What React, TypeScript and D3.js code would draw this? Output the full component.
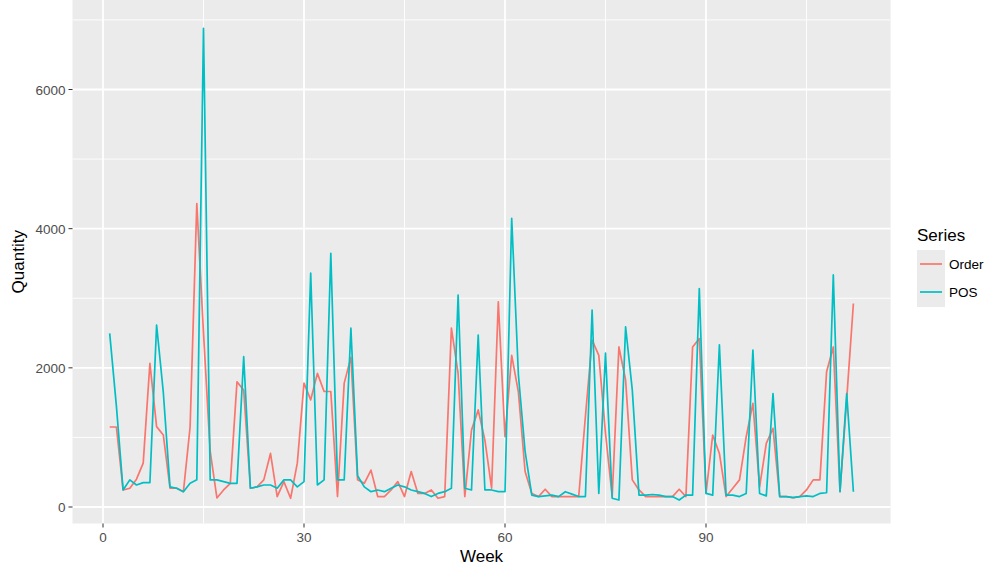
import React from "react";
import * as d3 from "d3";

const weeks: number[] = Array.from({ length: 112 }, (_, i) => i + 1);

const orderValues: number[] = [
  1150, 1150, 245, 270, 400, 630, 2065, 1155, 1035, 270,
  270, 220, 1150, 4360, 2500, 800, 130, 245, 340, 1800,
  1680, 270, 290, 390, 770, 150, 365, 125, 630, 1780,
  1540, 1920, 1660, 1660, 150, 1780, 2150, 390, 340, 530,
  150, 150, 245, 365, 150, 510, 195, 195, 245, 125,
  150, 2570, 1920, 150, 1105, 1395, 960, 270, 2950, 1010,
  2180, 1650, 510, 195, 150, 255, 150, 150, 150, 150,
  150, 1300, 2400, 2180, 1060, 150, 2300, 1825, 390, 245,
  150, 150, 150, 150, 150, 255, 150, 2300, 2420, 195,
  1035, 770, 150, 270, 390, 1010, 1490, 290, 915, 1130,
  150, 150, 135, 150, 245, 390, 390, 1945, 2300, 220,
  1550, 2925,
];

const posValues: number[] = [
  2495, 1450, 245, 390, 316, 350, 350, 2615, 1650, 290,
  270, 220, 340, 390, 6878, 390, 390, 365, 340, 340,
  2160, 270, 290, 316, 316, 270, 390, 390, 290, 365,
  3360, 316, 390, 3645, 390, 390, 2570, 450, 290, 220,
  245, 220, 270, 316, 290, 245, 220, 195, 150, 195,
  220, 270, 3045, 270, 245, 2470, 245, 245, 220, 220,
  4150, 1900, 800, 170, 150, 160, 170, 150, 220, 185,
  150, 150, 2830, 195, 2210, 125, 100, 2590, 1680, 170,
  170, 180, 170, 150, 150, 100, 170, 170, 3140, 195,
  170, 2330, 170, 170, 150, 195, 2255, 195, 160, 1630,
  150, 150, 135, 150, 160, 150, 195, 205, 3335, 220,
  1630, 220,
];

const seriesNames: string[] = ["Order", "POS"];
const seriesColors: string[] = ["#F8766D", "#00BFC4"];
const xMajorTicks: number[] = [0, 30, 60, 90];
const xMinorTicks: number[] = [15, 45, 75, 105];
const yMajorTicks: number[] = [0, 2000, 4000, 6000];
const yMinorTicks: number[] = [1000, 3000, 5000, 7000];

export default function App() {
  const W = 993;
  const H = 569;
  const x = d3.scaleLinear().domain([0, 90]).range([103, 706]);
  const y = d3.scaleLinear().domain([0, 6000]).range([507, 89.5]);

  const xMin = 1 - 0.05 * 111;
  const xMax = 112 + 0.05 * 111;
  const panelLeft = x(xMin);
  const panelRight = x(xMax);
  const panelTop = 0;
  const panelBottom = y(-237);

  const line = d3
    .line<number>()
    .x((_, i) => x(weeks[i]))
    .y((v) => y(v));

  const series = [orderValues, posValues];
  const font = "'Liberation Sans', Arial, Helvetica, sans-serif";

  return (
    <svg
      width={W}
      height={H}
      style={{ position: "absolute", left: 0, top: 0, background: "#fff" }}
      fontFamily={font}
    >
      <rect
        x={panelLeft}
        y={panelTop}
        width={panelRight - panelLeft}
        height={panelBottom - panelTop}
        fill="#EBEBEB"
      />
      {yMinorTicks.map((t) => (
        <line key={"ym" + t} x1={panelLeft} x2={panelRight} y1={y(t)} y2={y(t)} stroke="#fff" strokeWidth={0.9} />
      ))}
      {xMinorTicks.map((t) => (
        <line key={"xm" + t} x1={x(t)} x2={x(t)} y1={panelTop} y2={panelBottom} stroke="#fff" strokeWidth={0.9} />
      ))}
      {yMajorTicks.map((t) => (
        <line key={"yM" + t} x1={panelLeft} x2={panelRight} y1={y(t)} y2={y(t)} stroke="#fff" strokeWidth={1.8} />
      ))}
      {xMajorTicks.map((t) => (
        <line key={"xM" + t} x1={x(t)} x2={x(t)} y1={panelTop} y2={panelBottom} stroke="#fff" strokeWidth={1.8} />
      ))}

      {series.map((vals, i) => (
        <path
          key={seriesNames[i]}
          d={line(vals) || ""}
          fill="none"
          stroke={seriesColors[i]}
          strokeWidth={1.7}
          strokeLinejoin="round"
        />
      ))}

      {yMajorTicks.map((t) => (
        <g key={"yt" + t}>
          <line x1={panelLeft - 4} x2={panelLeft} y1={y(t)} y2={y(t)} stroke="#333" strokeWidth={1} />
          <text x={panelLeft - 7} y={y(t) + 5} textAnchor="end" fontSize={13.5} fill="#4D4D4D">
            {t}
          </text>
        </g>
      ))}
      {xMajorTicks.map((t) => (
        <g key={"xt" + t}>
          <line x1={x(t)} x2={x(t)} y1={panelBottom} y2={panelBottom + 4} stroke="#333" strokeWidth={1} />
          <text x={x(t)} y={panelBottom + 19} textAnchor="middle" fontSize={13.5} fill="#4D4D4D">
            {t}
          </text>
        </g>
      ))}

      <text x={(panelLeft + panelRight) / 2} y={562} textAnchor="middle" fontSize={17} fill="#000">
        Week
      </text>
      <text
        transform={`translate(24, ${(panelTop + panelBottom) / 2}) rotate(-90)`}
        textAnchor="middle"
        fontSize={17}
        fill="#000"
      >
        Quantity
      </text>

      <text x={917} y={241} fontSize={17} fill="#000">
        Series
      </text>
      <rect x={917} y={250} width={28} height={57} fill="#EBEBEB" />
      {seriesNames.map((name, i) => (
        <g key={"lg" + name}>
          <line x1={920} x2={942} y1={264 + i * 28} y2={264 + i * 28} stroke={seriesColors[i]} strokeWidth={1.7} />
          <text x={949} y={269 + i * 28} fontSize={13.5} fill="#000">
            {name}
          </text>
        </g>
      ))}
    </svg>
  );
}
